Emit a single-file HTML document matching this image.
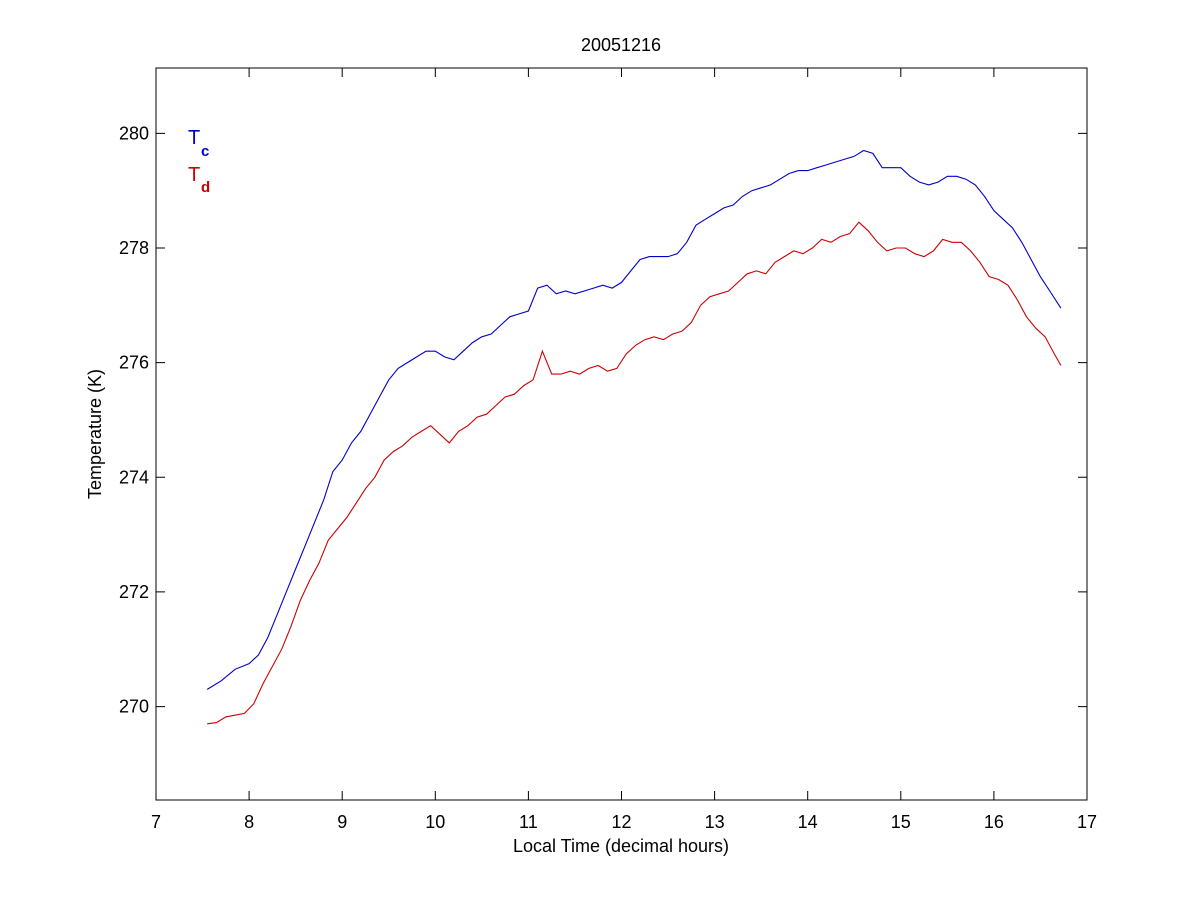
<!DOCTYPE html>
<html><head><meta charset="utf-8"><style>
body{margin:0;background:#fff;}
svg text{font-family:"Liberation Sans",Arial,sans-serif;}
</style></head><body>
<svg id="chart" width="1200" height="900" xmlns="http://www.w3.org/2000/svg">
<rect width="1200" height="900" fill="#fff"/>
<text x="621" y="51" font-size="18" text-anchor="middle">20051216</text>
<g id="ticks"></g>
<g id="series"></g>
<rect x="156" y="68" width="931" height="732" fill="none" stroke="#000" stroke-width="1"/>
<text x="621" y="852" font-size="18" text-anchor="middle">Local Time (decimal hours)</text>
<text transform="translate(101,434) rotate(-90)" font-size="18" text-anchor="middle">Temperature (K)</text>
<g><text x="188" y="144" font-size="20" fill="#0000cc">T</text><text x="201" y="156" font-size="15" font-weight="bold" fill="#0000cc">c</text></g>
<g><text x="188" y="181" font-size="20" fill="#cc0000">T</text><text x="201" y="192" font-size="15" font-weight="bold" fill="#cc0000">d</text></g>
</svg>
<script>
const xTicks=[7,8,9,10,11,12,13,14,15,16,17];
const yTicks=[270,272,274,276,278,280];
const tcHours=[7.55,7.7,7.85,8.0,8.1,8.2,8.3,8.4,8.5,8.6,8.7,8.8,8.9,9.0,9.1,9.2,9.3,9.4,9.5,9.6,9.7,9.8,9.9,10.0,10.1,10.2,10.3,10.4,10.5,10.6,10.7,10.8,10.9,11.0,11.1,11.2,11.3,11.4,11.5,11.6,11.7,11.8,11.9,12.0,12.1,12.2,12.3,12.4,12.5,12.6,12.7,12.8,12.9,13.0,13.1,13.2,13.3,13.4,13.5,13.6,13.7,13.8,13.9,14.0,14.1,14.2,14.3,14.4,14.5,14.6,14.7,14.8,14.9,15.0,15.1,15.2,15.3,15.4,15.5,15.6,15.7,15.8,15.9,16.0,16.1,16.2,16.3,16.4,16.5,16.6,16.72];
const tcValues=[270.3,270.45,270.65,270.75,270.9,271.2,271.6,272.0,272.4,272.8,273.2,273.6,274.1,274.3,274.6,274.8,275.1,275.4,275.7,275.9,276.0,276.1,276.2,276.2,276.1,276.05,276.2,276.35,276.45,276.5,276.65,276.8,276.85,276.9,277.3,277.35,277.2,277.25,277.2,277.25,277.3,277.35,277.3,277.4,277.6,277.8,277.85,277.85,277.85,277.9,278.1,278.4,278.5,278.6,278.7,278.75,278.9,279.0,279.05,279.1,279.2,279.3,279.35,279.35,279.4,279.45,279.5,279.55,279.6,279.7,279.65,279.4,279.4,279.4,279.25,279.15,279.1,279.15,279.25,279.25,279.2,279.1,278.9,278.65,278.5,278.35,278.1,277.8,277.5,277.25,276.95];
const tdHours=[7.55,7.65,7.75,7.85,7.95,8.05,8.15,8.25,8.35,8.45,8.55,8.65,8.75,8.85,8.95,9.05,9.15,9.25,9.35,9.45,9.55,9.65,9.75,9.85,9.95,10.05,10.15,10.25,10.35,10.45,10.55,10.65,10.75,10.85,10.95,11.05,11.15,11.25,11.35,11.45,11.55,11.65,11.75,11.85,11.95,12.05,12.15,12.25,12.35,12.45,12.55,12.65,12.75,12.85,12.95,13.05,13.15,13.25,13.35,13.45,13.55,13.65,13.75,13.85,13.95,14.05,14.15,14.25,14.35,14.45,14.55,14.65,14.75,14.85,14.95,15.05,15.15,15.25,15.35,15.45,15.55,15.65,15.75,15.85,15.95,16.05,16.15,16.25,16.35,16.45,16.55,16.65,16.72];
const tdValues=[269.7,269.72,269.82,269.85,269.88,270.05,270.4,270.7,271.0,271.4,271.85,272.2,272.5,272.9,273.1,273.3,273.55,273.8,274.0,274.3,274.45,274.55,274.7,274.8,274.9,274.75,274.6,274.8,274.9,275.05,275.1,275.25,275.4,275.45,275.6,275.7,276.2,275.8,275.8,275.85,275.8,275.9,275.95,275.85,275.9,276.15,276.3,276.4,276.45,276.4,276.5,276.55,276.7,277.0,277.15,277.2,277.25,277.4,277.55,277.6,277.55,277.75,277.85,277.95,277.9,278.0,278.15,278.1,278.2,278.25,278.45,278.3,278.1,277.95,278.0,278.0,277.9,277.85,277.95,278.15,278.1,278.1,277.95,277.75,277.5,277.45,277.35,277.1,276.8,276.6,276.45,276.15,275.95];

const X0=156,X1=1087,Y0=800,Y1=68;
const xMin=7,xMax=17,yMin=268.37,yMax=281.14;
function xs(v){return X0+(v-xMin)/(xMax-xMin)*(X1-X0);}
function ys(v){return Y0-(v-yMin)/(yMax-yMin)*(Y0-Y1);}
const NS='http://www.w3.org/2000/svg';
const tg=document.getElementById('ticks');
xTicks.forEach(t=>{
  const x=xs(t);
  const l=document.createElementNS(NS,'path');
  l.setAttribute('d',`M${x},${Y0}V${Y0-9}M${x},${Y1}V${Y1+9}`);
  l.setAttribute('stroke','#000');
  
  
  tg.appendChild(l);
  const tx=document.createElementNS(NS,'text');
  tx.setAttribute('x',x);tx.setAttribute('y',Y0+28);
  tx.setAttribute('font-size','18');tx.setAttribute('text-anchor','middle');
  tx.textContent=t;
  
  
  tg.appendChild(tx);
});
yTicks.forEach(t=>{
  const y=ys(t);
  const l=document.createElementNS(NS,'path');
  l.setAttribute('d',`M${X0},${y}H${X0+9}M${X1},${y}H${X1-9}`);
  l.setAttribute('stroke','#000');
  
  
  tg.appendChild(l);
  const tx=document.createElementNS(NS,'text');
  tx.setAttribute('x',X0-7);tx.setAttribute('y',y+6);
  tx.setAttribute('font-size','18');tx.setAttribute('text-anchor','end');
  tx.textContent=t;
  
  
  tg.appendChild(tx);
});
const sg=document.getElementById('series');
function line(hs,vs,color,name){
  const p=document.createElementNS(NS,'polyline');
  p.setAttribute('points',hs.map((h,i)=>xs(h).toFixed(1)+','+ys(vs[i]).toFixed(1)).join(' '));
  p.setAttribute('fill','none');p.setAttribute('stroke',color);p.setAttribute('stroke-width','1.1');
  
  
  sg.appendChild(p);
}
line(tcHours,tcValues,'#0000cc','tc-line');
line(tdHours,tdValues,'#cc0000','td-line');
</script>
</body></html>
